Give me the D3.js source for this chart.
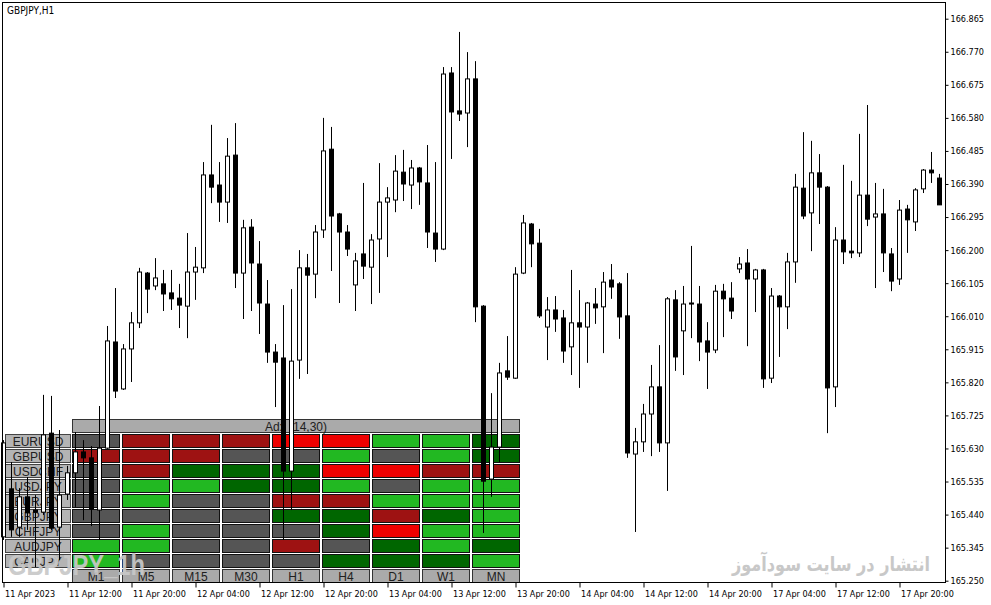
<!DOCTYPE html>
<html>
<head>
<meta charset="utf-8">
<script src="https://cdn.jsdelivr.net/npm/d3@7"></script>
<style>
body{margin:0;background:#fff;}
svg{display:block;}
.ax text{font-family:"DejaVu Sans Condensed","DejaVu Sans",sans-serif;font-stretch:condensed;font-size:9px;fill:#000;}
.ax line{stroke:#000;}
.tbl text{font-family:"Liberation Sans",Arial,sans-serif;font-size:12px;fill:#202020;}
</style>
</head>
<body>
<svg id="chart" width="991" height="605"></svg>
<script>
// GBPJPY H1 bars, oldest first
let opens = [165.376,165.514,165.404,165.491,165.453,165.447,165.674,165.404,165.499,165.560,
  165.620,165.603,165.453,165.631,165.936,165.801,165.916,165.991,166.134,166.097,
  166.103,166.077,166.062,166.039,166.137,166.149,166.416,166.387,166.338,166.473,
  166.134,166.266,166.160,166.045,165.907,165.890,165.565,165.884,166.149,166.131,
  166.258,166.490,166.304,166.252,166.100,166.189,166.151,166.232,166.338,166.344,
  166.424,166.387,166.436,166.393,166.249,166.203,166.709,166.600,166.594,166.692,
  166.039,165.542,165.634,165.853,165.832,166.134,166.275,166.220,165.979,166.028,
  166.005,165.922,165.991,165.979,166.045,166.037,166.114,166.103,166.011,165.614,
  165.649,165.729,165.807,165.646,166.057,165.968,166.048,166.045,165.939,165.913,
  166.082,166.062,166.146,166.163,166.117,166.143,165.832,166.068,166.037,166.166,
  166.378,166.307,166.422,166.381,165.807,166.229,166.197,166.192,166.358,166.295,
  166.304,166.189,166.117,166.318,166.281,166.376,166.430,166.407];
let highs = [165.654,165.591,165.516,165.548,165.496,165.784,165.781,165.683,165.580,165.677,
  165.654,165.637,165.752,165.982,166.091,165.930,166.022,166.149,166.137,166.177,
  166.143,166.143,166.103,166.249,166.209,166.453,166.560,166.453,166.522,166.565,
  166.287,166.289,166.226,166.114,165.930,166.042,166.088,166.200,166.189,166.272,
  166.580,166.554,166.307,166.272,166.192,166.393,166.246,166.450,166.381,166.473,
  166.488,166.459,166.439,166.502,166.453,166.726,166.726,166.827,166.769,166.743,
  166.042,165.789,165.876,165.953,166.151,166.301,166.278,166.261,166.065,166.068,
  166.028,166.143,166.085,166.051,166.091,166.137,166.160,166.108,166.134,165.689,
  165.758,165.870,165.927,166.065,166.085,166.097,166.212,166.097,165.993,166.100,
  166.103,166.108,166.180,166.203,166.146,166.146,166.091,166.071,166.192,166.419,
  166.539,166.514,166.476,166.384,166.266,166.445,166.399,166.534,166.617,166.393,
  166.376,166.206,166.344,166.330,166.378,166.433,166.482,166.419];
let lows = [165.367,165.376,165.376,165.396,165.289,165.439,165.396,165.310,165.482,165.462,
  165.424,165.407,165.367,165.628,165.775,165.798,165.821,165.976,166.019,166.085,
  166.025,166.028,165.976,165.947,166.057,166.134,166.335,166.281,166.278,166.091,
  166.002,166.025,165.959,165.876,165.749,165.367,165.453,165.830,165.844,166.062,
  166.235,166.140,166.048,166.183,166.025,166.117,166.045,166.077,166.180,166.309,
  166.341,166.318,166.330,166.206,166.166,166.200,166.462,166.571,166.496,165.993,
  165.387,165.491,165.591,165.827,165.830,166.131,166.151,166.005,165.884,165.965,
  165.876,165.841,165.804,165.876,165.988,165.904,166.060,165.945,165.603,165.390,
  165.620,165.608,165.620,165.508,165.853,165.841,165.947,165.881,165.801,165.904,
  165.950,166.002,166.134,165.924,166.022,165.804,165.818,165.893,165.973,166.106,
  166.289,166.197,166.275,165.674,165.749,166.160,166.177,166.180,166.269,166.091,
  166.137,166.082,166.100,166.192,166.255,166.364,166.393,166.330];
let closes = [165.646,165.396,165.491,165.445,165.447,165.669,165.401,165.496,165.560,165.620,
  165.603,165.456,165.631,165.939,165.795,165.916,165.991,166.137,166.088,166.120,
  166.074,166.060,166.042,166.137,166.151,166.416,166.381,166.338,166.470,166.134,
  166.264,166.163,166.048,165.907,165.878,165.565,165.881,166.149,166.128,166.252,
  166.485,166.298,166.252,166.203,166.169,166.154,166.229,166.338,166.350,166.427,
  166.390,166.436,166.396,166.252,166.203,166.706,166.597,166.591,166.692,166.037,
  165.536,165.634,165.847,165.835,166.131,166.278,166.218,166.011,166.028,166.002,
  165.910,165.991,165.979,166.048,166.034,166.108,166.094,166.008,165.617,165.649,
  165.729,165.807,165.646,166.060,165.893,166.045,166.045,165.936,165.907,166.082,
  166.060,166.025,166.160,166.117,166.143,165.830,166.068,166.037,166.166,166.381,
  166.298,166.422,166.381,165.804,166.229,166.195,166.192,166.358,166.289,166.304,
  166.192,166.111,166.315,166.287,166.373,166.430,166.422,166.330];

// one label every 8 bars
let timeLabels = ["11 Apr 2023","11 Apr 12:00","11 Apr 20:00","12 Apr 04:00","12 Apr 12:00",
  "12 Apr 20:00","13 Apr 04:00","13 Apr 12:00","13 Apr 20:00","14 Apr 04:00",
  "14 Apr 12:00","14 Apr 20:00","17 Apr 04:00","17 Apr 12:00","17 Apr 20:00"];
let priceTicks = [166.865,166.770,166.675,166.580,166.485,166.390,166.295,166.200,166.105,
  166.010,165.915,165.820,165.725,165.630,165.535,165.440,165.345,165.250];

// ADX panel
let pairs = ["EURUSD","GBPUSD","USDCHF","USDJPY","EURJPY","GBPJPY","CHFJPY","AUDJPY","CADJPY"];
let frames = ["M1","M5","M15","M30","H1","H4","D1","W1","MN"];
let adxState = [
  ["g","dr","dr","dr","r","r","lg","lg","dg"],
  ["dr","dr","dr","g","g","lg","g","lg","dg"],
  ["g","dr","dg","dg","dg","r","r","dr","dr"],
  ["g","lg","lg","dg","dg","lg","g","lg","lg"],
  ["g","lg","g","g","dr","dr","lg","lg","lg"],
  ["g","g","g","g","dg","dg","dr","dg","lg"],
  ["g","lg","g","g","g","dg","r","lg","lg"],
  ["lg","lg","g","g","dr","g","dg","lg","dg"],
  ["lg","g","g","g","g","dg","dg","dg","lg"]
];
let stateColor = {g:"#555555", dr:"#9e1212", r:"#ee0000", lg:"#22b822", dg:"#006600"};

const svg = d3.select("#chart");

const x = d3.scaleLinear().domain([0, opens.length - 1]).range([3, 3 + 8 * (opens.length - 1)]);
const y = d3.scaleLinear().domain([165.250, 166.865]).range([580.7, 18.7]);

// ---- ADX table (sits under the candles)
const tbl = svg.append("g").attr("class", "tbl");
const colX = d3.scaleBand().domain(frames).range([71, 521]).paddingInner(0.04).paddingOuter(0.02);
const rowY = d3.scaleBand().domain(d3.range(pairs.length + 1)).range([433.5, 583.5])
  .paddingInner(1 / 15).paddingOuter(1 / 30);

tbl.append("rect").attr("x", 72.5).attr("y", 419.5).attr("width", 447).attr("height", 13)
  .attr("fill", "#aaaaaa").attr("stroke", "#333");
tbl.append("text").attr("x", 296).attr("y", 431).attr("text-anchor", "middle").text("Adx (14,30)");

pairs.forEach((p, i) => {
  tbl.append("rect").attr("x", 5.5).attr("y", rowY(i) + 0.5).attr("width", 65).attr("height", rowY.bandwidth() - 1)
    .attr("fill", "#b4b4b4").attr("stroke", "#444");
  tbl.append("text").attr("x", 38).attr("y", rowY(i) + 11.5).attr("text-anchor", "middle").text(p);
  frames.forEach((f, j) => {
    tbl.append("rect").attr("x", colX(f) + 0.5).attr("y", rowY(i) + 0.5)
      .attr("width", colX.bandwidth() - 1).attr("height", rowY.bandwidth() - 1)
      .attr("fill", stateColor[adxState[i][j]]).attr("stroke", "#111");
  });
});
frames.forEach(f => {
  const r = pairs.length;
  tbl.append("rect").attr("x", colX(f) + 0.5).attr("y", rowY(r) + 0.5)
    .attr("width", colX.bandwidth() - 1).attr("height", rowY.bandwidth() - 1)
    .attr("fill", "#aaaaaa").attr("stroke", "#333");
  tbl.append("text").attr("x", colX(f) + colX.bandwidth() / 2).attr("y", rowY(r) + 11.5)
    .attr("text-anchor", "middle").text(f);
});

// watermarks
svg.append("text").attr("x", 8).attr("y", 575)
  .attr("font-family", "'Liberation Sans Narrow','Liberation Sans',sans-serif").attr("font-weight", "bold")
  .attr("font-size", 29).attr("fill", "#c8c8c8").attr("opacity", 0.92)
  .attr("textLength", 137).attr("lengthAdjust", "spacingAndGlyphs").text("GBPJPY_1h");
svg.append("text").attr("x", 732).attr("y", 571)
  .attr("font-family", "'DejaVu Sans',sans-serif").attr("font-weight", "bold")
  .attr("font-size", 20).attr("fill", "#c8c8c8")
  .attr("textLength", 198).attr("lengthAdjust", "spacingAndGlyphs").text("انتشار در سایت سودآموز");

// ---- candles
const bars = d3.range(opens.length);
const cg = svg.append("g");
cg.selectAll("line.wick").data(bars).join("line").attr("class", "wick")
  .attr("x1", i => x(i) + 0.5).attr("x2", i => x(i) + 0.5)
  .attr("y1", i => y(highs[i])).attr("y2", i => y(lows[i]))
  .attr("stroke", "#000").attr("stroke-width", 1);
cg.selectAll("rect.body").data(bars).join("rect").attr("class", "body")
  .attr("x", i => x(i) - 1.5).attr("width", 4)
  .attr("y", i => y(Math.max(opens[i], closes[i])))
  .attr("height", i => Math.max(1, Math.abs(y(opens[i]) - y(closes[i]))))
  .attr("fill", i => closes[i] >= opens[i] ? "#fff" : "#000")
  .attr("stroke", "#000").attr("stroke-width", 1);

// ---- frame and axes
svg.append("rect").attr("x", 2.5).attr("y", 2.5).attr("width", 943).attr("height", 580)
  .attr("fill", "none").attr("stroke", "#000");

svg.append("g").attr("class", "ax").attr("transform", "translate(945.5,0)")
  .call(d3.axisRight(y).tickValues(priceTicks).tickFormat(d3.format(".3f")).tickSize(3).tickPadding(2))
  .call(g => g.select(".domain").remove());

svg.append("g").attr("class", "ax").attr("transform", "translate(0.5,582.5)")
  .call(d3.axisBottom(x).tickValues(d3.range(0, opens.length, 8)).tickFormat((d, i) => timeLabels[i]).tickSize(5).tickPadding(3))
  .call(g => g.select(".domain").remove())
  .call(g => g.selectAll("text").attr("text-anchor", "start").attr("x", 1));

svg.append("text").attr("x", 7).attr("y", 14)
  .attr("font-family", "'DejaVu Sans Condensed','DejaVu Sans',sans-serif").attr("font-stretch", "condensed")
  .attr("font-size", 10).text("GBPJPY,H1");
</script>
</body>
</html>
